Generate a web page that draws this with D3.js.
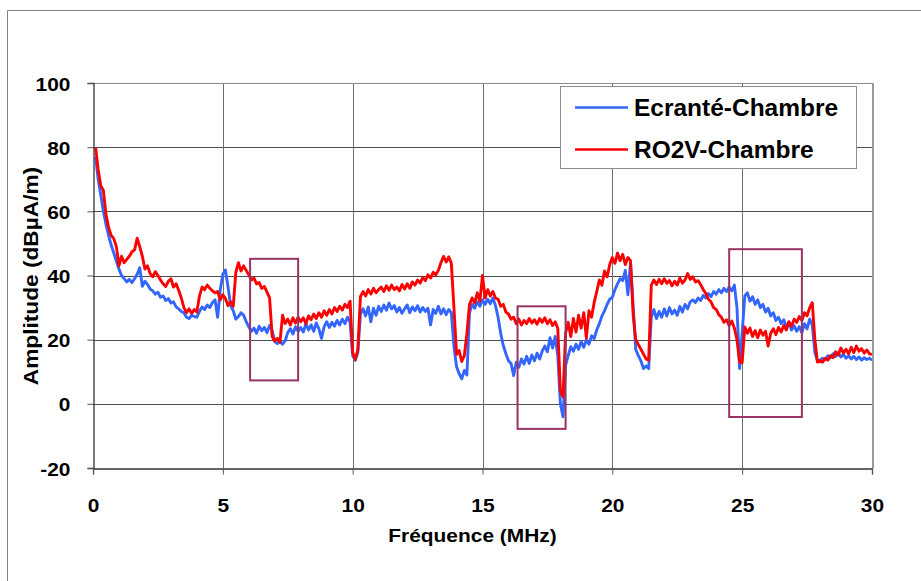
<!DOCTYPE html>
<html>
<head>
<meta charset="utf-8">
<script src="https://cdn.jsdelivr.net/npm/d3@7"></script>
<style>
  body { margin: 0; background: #fff; }
  svg { display: block; }
  text { font-family: "Liberation Sans", Arial, sans-serif; font-weight: bold; fill: #000; }
</style>
</head>
<body>
<svg id="chart" width="921" height="581"></svg>
<script>
// Sweep grid: first frequency and step (MHz)
const freqStart = 0.1;
const freqStep = 0.1;

// Field amplitude, shielded probe vs chamber (dBµA/m), one value per 0.1 MHz from 0.1 to 30 MHz
const ecrante = [
  77, 70, 65, 60, 56, 52.5, 49.5, 47, 44.5, 42,
  40, 39, 38, 38.8, 37.8, 39, 40.4, 42.4, 36.6, 38.2,
  37.2, 35.8, 35.2, 34.2, 34.8, 33.2, 33.6, 32.2, 32.8, 31.4,
  31.8, 30.2, 29.6, 28.8, 28.4, 27, 26.6, 27.6, 27.2, 27,
  28.8, 30.2, 29.4, 30.8, 30, 31.6, 32.4, 27, 35.5, 40.4,
  41.7, 36.5, 30.6, 29, 26.4, 27.2, 28.4, 27.6, 25.6, 24,
  22.6, 23.6, 22, 24.2, 22.8, 23.8, 22.2, 24.4, 22.8, 19.4,
  18.8, 19.4, 18.6, 19.6, 22.2, 23.4, 21.8, 24, 22.6, 23.8,
  22.4, 25, 23, 24.6, 22.6, 25.2, 23.4, 20.4, 24, 25.6,
  23.8, 25.4, 24.2, 26, 24.6, 26.4, 25, 27, 25.4, 15,
  13.6, 16, 28, 29.6, 27.4, 30.2, 25.6, 29.8, 27.6, 30.4,
  28.8, 30.8, 29.2, 31.4, 29.6, 30.6, 28.6, 30, 28.2, 29.6,
  30.8, 28.4, 30.2, 29, 30.6, 28.6, 30, 28.8, 29.8, 24.6,
  29.4, 28.2, 30.4, 28, 29.6, 27.8, 29.4, 28.4, 18, 11.6,
  9.4, 7.8, 10.4, 9, 28.4, 31, 29.8, 31.8, 30.4, 32.4,
  31, 32.6, 31.2, 33, 30.6, 27, 22, 18.2, 15.6, 13.4,
  12.6, 8.8, 13, 11.4, 14, 12.4, 14.8, 12.6, 15.2, 13.4,
  15.8, 14, 16.4, 18, 16.2, 20.6, 17.4, 21, 15, 0,
  -4, 12, 15, 17.8, 16.4, 18.6, 17, 19.4, 17.6, 20,
  18.6, 21.2, 20.4, 23, 25, 27.4, 29, 31, 32.6, 33.2,
  35.6, 37.4, 39, 38.4, 41.6, 34, 44, 31, 17, 15,
  13.4, 11, 11.8, 11, 27, 29.4, 26.6, 28.8, 27, 29.6,
  27.4, 30, 28, 29.2, 27.6, 30.4, 28.6, 31, 29.6, 31.8,
  32.4, 31.6, 33, 32.2, 33.8, 33, 34.4, 33.4, 35, 34.2,
  35.6, 34.6, 36, 35, 36.4, 35.2, 37, 30, 11, 22,
  33.6, 34.6, 32, 33.4, 31, 32.4, 30, 31, 28.6, 29.8,
  27.4, 28.4, 26, 27, 25, 26.2, 24, 25.4, 23, 24.4,
  22.6, 24, 22.2, 25, 23.4, 26.4, 24.6, 16, 13.4, 13.6,
  14.2, 13.8, 15, 14.4, 15.6, 14.8, 16, 14.6, 15.4, 14.2,
  15, 14, 14.8, 13.8, 14.6, 13.6, 14.4, 13.8, 14.2, 13.6
];

// Field amplitude, RO2V probe vs chamber (dBµA/m), same sweep grid
const ro2v = [
  80, 73, 68, 66.5, 59, 55, 52.5, 51.5, 49, 43,
  46, 44, 45, 46, 47.4, 48, 51.6, 49, 46, 42,
  43, 40.6, 39.6, 41.2, 40, 38.6, 37.4, 36.6, 38.2, 39,
  36.4, 37.4, 35.4, 33, 30, 28.4, 29.6, 28.2, 29.4, 28.6,
  33.6, 36.4, 35.6, 37, 36, 35.2, 34.6, 35, 32.4, 34,
  32.8, 30.6, 31.8, 30.4, 41, 44, 41.4, 43, 41.6, 40.2,
  38.6, 39.2, 37.4, 37.8, 36, 36.6, 34.8, 33, 21, 19.6,
  20.4, 19.2, 27.6, 25, 26.4, 24.6, 26.8, 25.2, 27, 25.6,
  26.8, 25, 27.4, 26.2, 28, 26.6, 28.4, 27, 29, 27.6,
  29.4, 28, 30, 28.8, 30.4, 29.2, 31, 30, 32, 16,
  13.8, 17, 33.4, 35, 33.6, 35.6, 34.2, 36, 34.6, 35.6,
  36.4, 35, 36.8, 35.4, 37, 35.6, 36.4, 35.2, 37.2, 35.8,
  37.4, 36, 38, 37, 38.6, 37.6, 39.4, 38.4, 40.2, 39.2,
  41, 40.2, 41.6, 44, 46, 44.2, 45.8, 43.8, 30, 15.4,
  16.6, 13.2, 15, 22, 31, 33, 31.4, 34.6, 32, 40,
  33, 35.6, 33.6, 35, 33, 32.6, 30.4, 31, 28.6, 28,
  26.4, 27, 25, 26.4, 24.6, 26, 25, 26.6, 25.2, 26.2,
  24.8, 26.6, 25.4, 26.8, 25, 26.2, 24.4, 25.6, 23.5, 4,
  2.2, 22, 25.4, 21, 26.6, 22.4, 27.6, 23.6, 28.4, 20.5,
  29, 27, 31.6, 35, 38.6, 37, 41.4, 39.6, 43.4, 45.6,
  43.8, 47, 44.6, 46.6, 43.4, 45.6, 44.6, 28, 20, 18.5,
  17, 15.5, 14, 13.6, 37, 38.6, 37.2, 38.8, 37.4, 39,
  37.6, 38.4, 36.8, 38.2, 37, 39.2, 37.6, 38.6, 40.6, 38.8,
  39.6, 38, 38.4, 37.2, 35.6, 34.4, 32.6, 31.8, 30, 29.4,
  27.8, 27, 25.4, 26.2, 24.4, 25.8, 23.6, 20, 13, 12.8,
  24, 22, 23.6, 21, 22.8, 20.6, 23, 21.4, 22.6, 18,
  22, 23.4, 21.6, 23.8, 22.4, 24.4, 23, 25.6, 24.2, 26.4,
  25.4, 27.2, 26, 28.4, 27.4, 30, 31.5, 20, 13, 13.4,
  13, 14.2, 13.6, 15, 14.4, 16.2, 15.2, 17.4, 15.8, 17,
  15.6, 17.6, 16, 18, 16.4, 17.2, 15.8, 16.8, 15.6, 15.4
];

const seriesNames = ["Ecranté-Chambre", "RO2V-Chambre"];
const seriesColors = ["#3366ff", "#ff0000"];

const xTicks = [0, 5, 10, 15, 20, 25, 30];
const yTicks = [-20, 0, 20, 40, 60, 80, 100];

// Highlighted bands: frequency span (MHz) and amplitude span (dBµA/m)
const zoneF0 = [6.05, 16.35, 24.5];
const zoneF1 = [7.9, 18.2, 27.3];
const zoneA0 = [7.3, -7.8, -4.1];
const zoneA1 = [45.2, 30.4, 48.2];

const svg = d3.select("#chart");
const W = 921, H = 581;
const plot = { left: 93, right: 872, top: 83, bottom: 468 };

const x = d3.scaleLinear().domain([0, 30]).range([plot.left, plot.right]);
const y = d3.scaleLinear().domain([-20, 100]).range([plot.bottom, plot.top]);

// outer frame of the figure
svg.append("path")
  .attr("d", `M7.5,${H} V10.5 H${W}`)
  .attr("fill", "none").attr("stroke", "#808080").attr("stroke-width", 1);

const crisp = v => Math.round(v) + 0.5;

// grid
const grid = svg.append("g").attr("shape-rendering", "crispEdges");
grid.selectAll(".hg").data(yTicks.filter(t => t > -20 && t < 100)).join("line")
  .attr("x1", plot.left).attr("x2", plot.right)
  .attr("y1", d => crisp(y(d))).attr("y2", d => crisp(y(d)))
  .attr("stroke", "#4d4d4d").attr("stroke-width", 1);
grid.selectAll(".vg").data(xTicks.filter(t => t > 0 && t < 30)).join("line")
  .attr("y1", plot.top).attr("y2", plot.bottom)
  .attr("x1", d => crisp(x(d))).attr("x2", d => crisp(x(d)))
  .attr("stroke", "#6e6e6e").attr("stroke-width", 1);

// plot frame: light top/right, dark axes
grid.append("line").attr("x1", plot.left).attr("x2", plot.right)
  .attr("y1", crisp(plot.top)).attr("y2", crisp(plot.top))
  .attr("stroke", "#8c8c8c").attr("stroke-width", 1.5);
grid.append("line").attr("x1", plot.right + 0.5).attr("x2", plot.right + 0.5)
  .attr("y1", plot.top).attr("y2", plot.bottom)
  .attr("stroke", "#9a9a9a").attr("stroke-width", 2);

// series lines
const line = d3.line()
  .x((d, i) => x(freqStart + i * freqStep))
  .y(d => y(d));

svg.append("clipPath").attr("id", "plotClip")
  .append("rect").attr("x", plot.left).attr("y", plot.top)
  .attr("width", plot.right - plot.left).attr("height", plot.bottom - plot.top);

const lines = svg.append("g").attr("clip-path", "url(#plotClip)");
[ecrante, ro2v].forEach((vals, k) => {
  lines.append("path")
    .datum(vals)
    .attr("d", line)
    .attr("fill", "none")
    .attr("stroke", seriesColors[k])
    .attr("stroke-width", 2.9)
    .attr("stroke-linejoin", "round");
});

// highlighted bands
svg.append("g").selectAll("rect").data(zoneF0).join("rect")
  .attr("x", (d, i) => x(zoneF0[i]))
  .attr("y", (d, i) => y(zoneA1[i]))
  .attr("width", (d, i) => x(zoneF1[i]) - x(zoneF0[i]))
  .attr("height", (d, i) => y(zoneA0[i]) - y(zoneA1[i]))
  .attr("fill", "none")
  .attr("stroke", "#993366")
  .attr("stroke-width", 2);

// axes (plain hyphen for negative labels)
const fmt = d => String(d);
const yAxis = d3.axisLeft(y).tickValues(yTicks).tickSize(6).tickFormat(fmt);
const xAxis = d3.axisBottom(x).tickValues(xTicks).tickSize(6).tickFormat(fmt);

const gy = svg.append("g").attr("transform", `translate(${plot.left + 0.5},0)`).call(yAxis);
const gx = svg.append("g").attr("transform", `translate(0,${plot.bottom + 0.5})`).call(xAxis);
[gy, gx].forEach(g => {
  g.select(".domain").attr("stroke", "#333").attr("stroke-width", 1.3);
  g.selectAll(".tick line").attr("stroke", "#555");
  g.selectAll("text").attr("font-family", null).style("font-size", "19px").attr("fill", "#000");
});
gy.selectAll(".tick text")
  .attr("x", null).attr("dy", null)
  .attr("text-anchor", "end")
  .attr("transform", "translate(-23,7) scale(1.1,1)");
gx.selectAll(".tick text")
  .attr("y", null).attr("dy", null)
  .attr("text-anchor", "middle")
  .attr("transform", "translate(0,43) scale(1.1,1)");

// axis titles
svg.append("text")
  .attr("text-anchor", "middle")
  .attr("transform", `translate(${(plot.left + plot.right) / 2 - 10},542) scale(1.1,1)`)
  .style("font-size", "19px")
  .text("Fréquence (MHz)");
svg.append("text")
  .attr("text-anchor", "middle")
  .attr("transform", "translate(38,276) rotate(-90) scale(1.08,1)")
  .style("font-size", "21px")
  .text("Amplitude (dBµA/m)");

// legend
const lg = svg.append("g");
lg.append("rect")
  .attr("x", 560.5).attr("y", 86.5).attr("width", 296).attr("height", 82)
  .attr("fill", "#fff").attr("stroke", "#8c8c8c").attr("stroke-width", 1);
seriesNames.forEach((name, k) => {
  const cy = 107.5 + k * 42;
  lg.append("line").attr("x1", 575).attr("x2", 628).attr("y1", cy).attr("y2", cy)
    .attr("stroke", seriesColors[k]).attr("stroke-width", 2.6);
  lg.append("text")
    .attr("transform", `translate(634,${cy + 8.5}) scale(1.065,1)`)
    .style("font-size", "23px")
    .text(name);
});
</script>
</body>
</html>
